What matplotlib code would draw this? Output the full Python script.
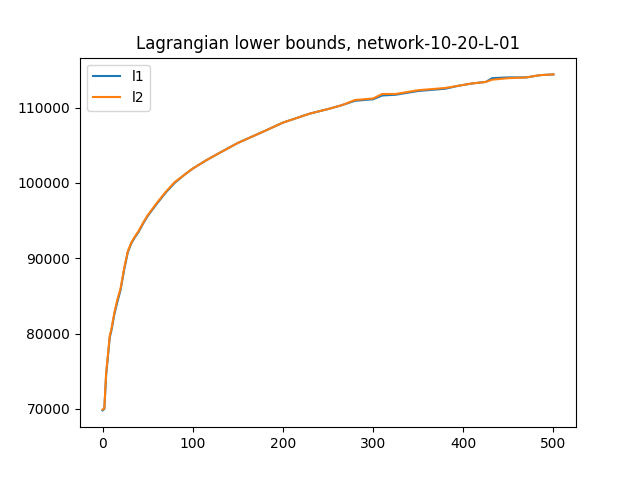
import matplotlib
matplotlib.use("Agg")
import matplotlib.pyplot as plt

iters = [0, 2, 4, 6, 8, 10, 13, 16, 20, 24, 28, 32, 36, 40, 45, 50, 60, 70, 80, 90, 100,
         115, 130, 150, 165, 180, 200, 215, 230, 250, 265, 280, 300, 310, 325, 350, 360,
         380, 395, 410, 425, 432, 450, 470, 485, 500]
l1 = [69800, 70000, 74500, 77000, 79500, 80500, 82500, 84000, 85800, 88500, 90800, 92000,
      92800, 93500, 94600, 95600, 97200, 98700, 100000, 101000, 101900, 103000, 104000,
      105300, 106100, 106900, 108000, 108600, 109200, 109800, 110300, 110900, 111100,
      111600, 111700, 112200, 112300, 112500, 112900, 113200, 113400, 113900, 114000,
      114000, 114300, 114400]
l2 = [69900, 70100, 74800, 77200, 79700, 80700, 82700, 84300, 86000, 88700, 90900, 92100,
      92900, 93600, 94700, 95700, 97300, 98800, 100100, 101000, 101900, 103000, 104000,
      105300, 106100, 106900, 108000, 108600, 109200, 109800, 110300, 111000, 111200,
      111800, 111800, 112300, 112400, 112600, 112900, 113200, 113400, 113700, 113900,
      114000, 114300, 114400]

fig, ax = plt.subplots(figsize=(6.4, 4.8), dpi=100)
ax.plot(iters, l1, label="l1")
ax.plot(iters, l2, label="l2")
ax.set_title("Lagrangian lower bounds, network-10-20-L-01")
ax.legend(loc="upper left")
fig.savefig("out.png")
